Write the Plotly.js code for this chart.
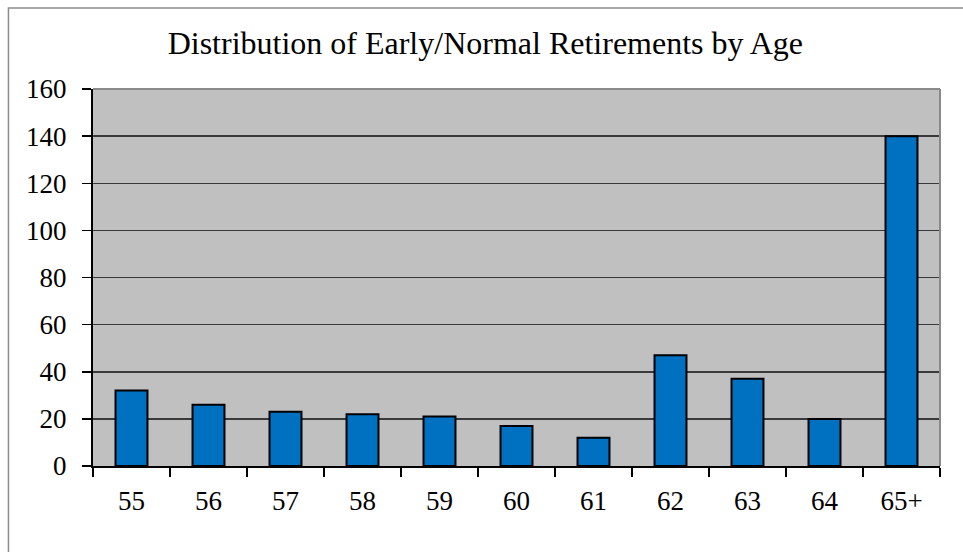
<!DOCTYPE html>
<html>
<head>
<meta charset="utf-8">
<script src="https://cdn.plot.ly/plotly-3.0.1.min.js"></script>
<style>
html,body{margin:0;padding:0;background:#fff;}
#chart{width:963px;height:552px;}
</style>
</head>
<body>
<div id="chart"></div>
<script>
const ages = ["55","56","57","58","59","60","61","62","63","64","65+"];
const retirements = [32, 26, 23, 22, 21, 17, 12, 47, 37, 20, 140];
const yTicks = [0, 20, 40, 60, 80, 100, 120, 140, 160];
const chartTitle = "Distribution of Early/Normal Retirements by Age";

const serif = "Liberation Serif";

const trace = {
  type: "bar",
  x: ages,
  y: retirements,
  marker: {color: "#0070c0", line: {color: "#000000", width: 2}},
  hoverinfo: "x+y"
};

const layout = {
  width: 963,
  height: 552,
  margin: {l: 93, r: 23, t: 89, b: 86, pad: 0},
  paper_bgcolor: "#ffffff",
  plot_bgcolor: "#c0c0c0",
  bargap: 0.585,
  showlegend: false,
  font: {family: serif, color: "#000"},
  title: {
    text: chartTitle,
    font: {family: serif, size: 32, color: "#000"},
    x: 0.504, xref: "container", xanchor: "center",
    y: 0.922, yref: "container", yanchor: "middle"
  },
  xaxis: {
    type: "category",
    showgrid: false,
    showline: true,
    linecolor: "#000",
    linewidth: 2,
    ticks: "outside",
    tickson: "boundaries",
    ticklen: 9,
    tickwidth: 1.5,
    tickcolor: "#000",
    ticklabelstandoff: 10,
    tickfont: {family: serif, size: 27, color: "#000"},
    fixedrange: true
  },
  yaxis: {
    range: [0, 160],
    tickvals: yTicks,
    ticktext: yTicks.map(String),
    showgrid: true,
    gridcolor: "#3a3a3a",
    gridwidth: 1.5,
    zeroline: false,
    showline: true,
    linecolor: "#000",
    linewidth: 2,
    ticks: "outside",
    ticklen: 9,
    tickwidth: 1.5,
    tickcolor: "#000",
    ticklabelstandoff: 10,
    tickfont: {family: serif, size: 27, color: "#000"},
    fixedrange: true
  },
  shapes: [
    {type: "line", xref: "paper", yref: "paper", x0: 0, x1: 1, y0: 1, y1: 1,
     line: {color: "#8a8a8a", width: 2}},
    {type: "line", xref: "paper", yref: "paper", x0: 1, x1: 1, y0: 0, y1: 1,
     line: {color: "#8a8a8a", width: 2}},
    {type: "rect", xref: "paper", yref: "paper", x0: -0.0998, x1: 1.06, y0: -0.3, y1: 1.2146,
     line: {color: "#8c8c8c", width: 1.5}, fillcolor: "rgba(0,0,0,0)", layer: "below"}
  ]
};

Plotly.newPlot("chart", [trace], layout, {displayModeBar: false, staticPlot: true});
</script>
</body>
</html>
